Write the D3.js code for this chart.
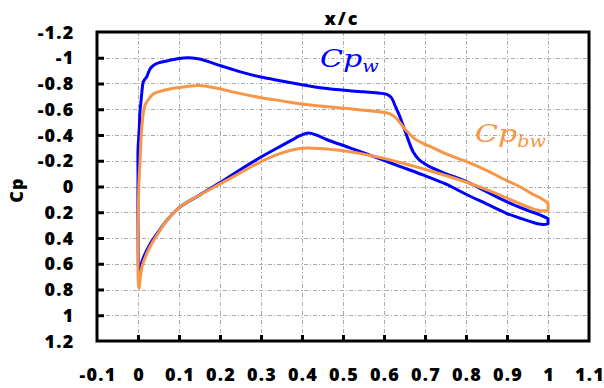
<!DOCTYPE html>
<html>
<head>
<meta charset="utf-8">
<script src="https://cdn.jsdelivr.net/npm/d3@7"></script>
<style>
  html, body { margin: 0; padding: 0; background: #fff; }
  svg { display: block; }
</style>
</head>
<body>
<svg id="chart" width="604" height="388"></svg>
<script>
// Pressure coefficient along the chord, [x/c, Cp]; each surface runs from leading to trailing edge.
const cpwUpper = [
  [0.003, 0.69], [0.0, 0.30], [0.0, -0.10], [0.0, -0.28], [0.003, -0.45], [0.005, -0.59],
  [0.007, -0.65], [0.010, -0.75], [0.0125, -0.81], [0.016, -0.83], [0.021, -0.85],
  [0.026, -0.89], [0.031, -0.92], [0.04, -0.945], [0.05, -0.96], [0.07, -0.975],
  [0.10, -0.995], [0.125, -1.0], [0.15, -0.99], [0.20, -0.94], [0.25, -0.89],
  [0.30, -0.85], [0.35, -0.82], [0.40, -0.79], [0.45, -0.765], [0.51, -0.745],
  [0.55, -0.735], [0.59, -0.725], [0.607, -0.715], [0.618, -0.69], [0.628, -0.62],
  [0.639, -0.54], [0.656, -0.39], [0.671, -0.27], [0.685, -0.21], [0.70, -0.175],
  [0.72, -0.14], [0.75, -0.10], [0.80, -0.04], [0.85, 0.04], [0.90, 0.12],
  [0.95, 0.185], [0.98, 0.22], [1.0, 0.25]
];
const cpwLower = [
  [0.003, 0.69], [0.01, 0.58], [0.029, 0.45], [0.05, 0.35], [0.071, 0.26],
  [0.102, 0.16], [0.151, 0.065], [0.20, -0.03], [0.249, -0.13], [0.298, -0.225],
  [0.346, -0.31], [0.375, -0.36], [0.395, -0.395], [0.415, -0.415], [0.435, -0.40],
  [0.46, -0.365], [0.517, -0.30], [0.59, -0.215], [0.64, -0.155], [0.695, -0.09],
  [0.75, -0.02], [0.80, 0.06], [0.85, 0.135], [0.90, 0.21], [0.95, 0.265],
  [0.975, 0.29], [0.99, 0.295], [1.0, 0.29]
];
const cpbwUpper = [
  [0.002, 0.79], [0.0, 0.40], [0.002, 0.0], [0.005, -0.20], [0.008, -0.40],
  [0.012, -0.55], [0.017, -0.63], [0.024, -0.67], [0.034, -0.71], [0.041, -0.725],
  [0.049, -0.735], [0.066, -0.75], [0.09, -0.765], [0.115, -0.775], [0.15, -0.785],
  [0.19, -0.765], [0.23, -0.735], [0.30, -0.69], [0.35, -0.665], [0.40, -0.64],
  [0.43, -0.63], [0.51, -0.605], [0.59, -0.58], [0.615, -0.565], [0.63, -0.53],
  [0.645, -0.47], [0.66, -0.415], [0.675, -0.37], [0.695, -0.335], [0.72, -0.30],
  [0.75, -0.255], [0.80, -0.195], [0.85, -0.125], [0.90, -0.045], [0.93, 0.0],
  [0.96, 0.055], [0.985, 0.095], [1.0, 0.13]
];
const cpbwLower = [
  [0.002, 0.79], [0.01, 0.62], [0.029, 0.47], [0.05, 0.36], [0.071, 0.26],
  [0.102, 0.16], [0.151, 0.066], [0.20, -0.02], [0.249, -0.105], [0.298, -0.19],
  [0.346, -0.255], [0.395, -0.295], [0.444, -0.295], [0.517, -0.27], [0.59, -0.225],
  [0.67, -0.16], [0.72, -0.115], [0.80, -0.035], [0.85, 0.025], [0.90, 0.09],
  [0.956, 0.165], [0.975, 0.185], [1.0, 0.19]
];

const xTicks = [-0.1, 0, 0.1, 0.2, 0.3, 0.4, 0.5, 0.6, 0.7, 0.8, 0.9, 1, 1.1];
const yTicks = [-1.2, -1, -0.8, -0.6, -0.4, -0.2, 0, 0.2, 0.4, 0.6, 0.8, 1, 1.2];

const blue = "#0000ff";
const orange = "#f79646";

const svg = d3.select("#chart");
const plotL = 97, plotR = 589, plotT = 32, plotB = 341;

const x = d3.scaleLinear().domain([-0.1, 1.1]).range([plotL, plotR]);
const y = d3.scaleLinear().domain([-1.2, 1.2]).range([plotT, plotB]);

const fmt = v => String(+v.toFixed(1));

// dash-dot grid at the interior ticks
const grid = svg.append("g")
  .attr("stroke", "#ababab")
  .attr("stroke-width", 1)
  .attr("stroke-dasharray", "4,2,1,2");
grid.selectAll("line.v").data(xTicks.slice(1, -1)).join("line")
  .attr("class", "v")
  .attr("x1", d => Math.round(x(d)) + 0.5).attr("x2", d => Math.round(x(d)) + 0.5)
  .attr("y1", plotT).attr("y2", plotB);
grid.selectAll("line.h").data(yTicks.slice(1, -1)).join("line")
  .attr("class", "h")
  .attr("y1", d => Math.round(y(d)) + 0.5).attr("y2", d => Math.round(y(d)) + 0.5)
  .attr("x1", plotL).attr("x2", plotR);

// closed loop: upper surface from trailing edge to leading edge, then lower surface back
const line = d3.line()
  .x(d => x(d[0]))
  .y(d => y(d[1]))
  .curve(d3.curveCatmullRom.alpha(0.5));
const loop = (upper, lower) => upper.slice().reverse().concat(lower.slice(1));

svg.append("path")
  .attr("d", line(loop(cpwUpper, cpwLower)) + "Z")
  .attr("fill", "none").attr("stroke", blue).attr("stroke-width", 3)
  .attr("stroke-linejoin", "round");
svg.append("path")
  .attr("d", line(loop(cpbwUpper, cpbwLower)) + "Z")
  .attr("fill", "none").attr("stroke", orange).attr("stroke-width", 3)
  .attr("stroke-linejoin", "round");

// frame
svg.append("rect")
  .attr("x", plotL).attr("y", plotT)
  .attr("width", plotR - plotL).attr("height", plotB - plotT)
  .attr("fill", "none").attr("stroke", "#000").attr("stroke-width", 3);

// inward tick marks on the bottom and left axes
const xAxis = d3.axisBottom(x).tickValues(xTicks.slice(1, -1)).tickSize(-6).tickFormat("");
const yAxis = d3.axisLeft(y).tickValues(yTicks.slice(1, -1)).tickSize(-7).tickFormat("");
const gx = svg.append("g").attr("transform", `translate(0,${plotB})`).call(xAxis);
const gy = svg.append("g").attr("transform", `translate(${plotL},0)`).call(yAxis);
[gx, gy].forEach(g => {
  g.select(".domain").remove();
  g.selectAll(".tick line").attr("stroke", "#000").attr("stroke-width", 3);
});

const labelFont = "'Open Sans', 'Noto Sans', sans-serif";

// tick labels
svg.append("g").selectAll("text").data(xTicks).join("text")
  .attr("x", d => x(d) + 1)
  .attr("y", 381)
  .attr("text-anchor", "middle")
  .attr("font-family", labelFont).attr("font-weight", 800)
  .attr("font-size", 18).attr("letter-spacing", 1.2)
  .attr("fill", "#000")
  .text(fmt);
svg.append("g").selectAll("text").data(yTicks).join("text")
  .attr("x", 74.5)
  .attr("y", d => y(d) + 6.5)
  .attr("text-anchor", "end")
  .attr("font-family", labelFont).attr("font-weight", 800)
  .attr("font-size", 18).attr("letter-spacing", 1.2)
  .attr("fill", "#000")
  .text(fmt);

// axis titles
svg.append("text")
  .attr("x", 342).attr("y", 25)
  .attr("text-anchor", "middle")
  .attr("font-family", labelFont).attr("font-weight", 800)
  .attr("font-size", 18).attr("letter-spacing", 2)
  .text("x/c");
svg.append("text")
  .attr("transform", "translate(23,190) rotate(-90)")
  .attr("text-anchor", "middle")
  .attr("font-family", labelFont).attr("font-weight", 800)
  .attr("font-size", 18).attr("letter-spacing", 1)
  .text("Cp");

// series labels in math italic, widened a little
const mathFont = "'DejaVu Serif', 'Liberation Serif', serif";
function seriesLabel(px, py, sub, color) {
  const t = svg.append("text")
    .attr("transform", `translate(${px},${py}) scale(1.2,1)`)
    .attr("font-family", mathFont).attr("font-style", "italic")
    .attr("font-size", 25).attr("fill", color);
  t.append("tspan").text("Cp");
  t.append("tspan").attr("dy", 5).attr("font-size", 16).text(sub);
}
seriesLabel(320, 67, "w", blue);
seriesLabel(475, 142, "bw", orange);
</script>
</body>
</html>
